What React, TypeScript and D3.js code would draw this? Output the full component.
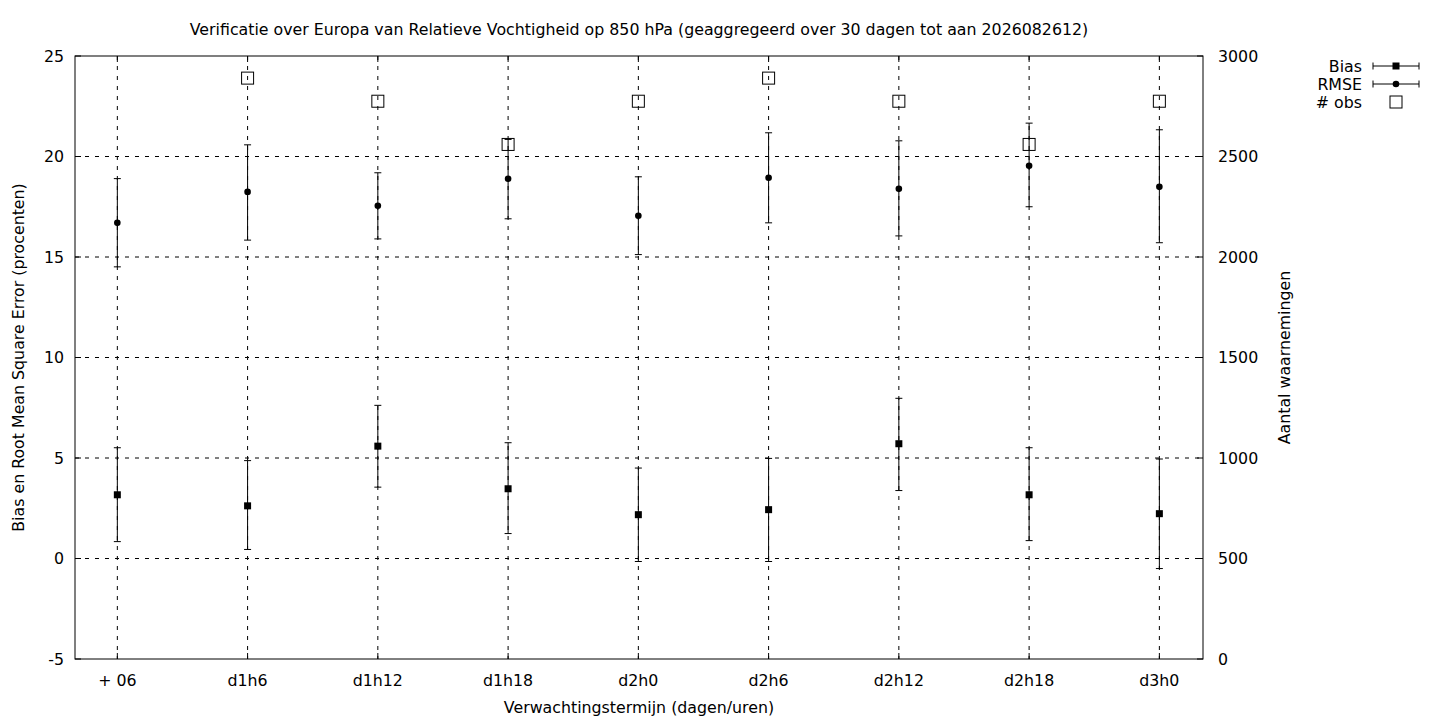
import React, { useEffect, useRef } from 'react';
import * as d3 from 'd3';

const leadTimes = ['+ 06', 'd1h6', 'd1h12', 'd1h18', 'd2h0', 'd2h6', 'd2h12', 'd2h18', 'd3h0'];

const biasValue = [3.17, 2.62, 5.59, 3.47, 2.18, 2.43, 5.71, 3.17, 2.23];
const biasLow = [0.84, 0.45, 3.55, 1.24, -0.15, -0.15, 3.38, 0.89, -0.5];
const biasHigh = [5.51, 4.87, 7.62, 5.76, 4.5, 4.98, 7.97, 5.51, 4.95];

const rmseValue = [16.7, 18.24, 17.55, 18.89, 17.05, 18.94, 18.39, 19.54, 18.49];
const rmseLow = [14.51, 15.84, 15.9, 16.9, 15.12, 16.7, 16.05, 17.5, 15.71];
const rmseHigh = [18.9, 20.58, 19.19, 20.85, 18.99, 21.18, 20.78, 21.66, 21.33];

const obsCount: (number | null)[] = [null, 2890, 2775, 2560, 2775, 2890, 2775, 2560, 2775];

const leftTicks = [-5, 0, 5, 10, 15, 20, 25];
const rightTicks = [0, 500, 1000, 1500, 2000, 2500, 3000];

const FONT = '"DejaVu Sans", sans-serif';

const Chart: React.FC = () => {
  const svgRef = useRef<SVGSVGElement>(null);

  useEffect(() => {
    if (!svgRef.current) return;
    const svg = d3.select(svgRef.current);
    svg.selectAll('*').remove();

    const left = 75;
    const right = 1203;
    const top = 56;
    const bottom = 659;

    const x = d3.scaleLinear().domain([-0.325, 8.335]).range([left, right]);
    const y = d3.scaleLinear().domain([-5, 25]).range([bottom, top]);
    const y2 = d3.scaleLinear().domain([0, 3000]).range([bottom, top]);

    const g = svg.append('g').style('font-family', FONT).style('font-size', '15.8px');

    // grid
    g.selectAll('line.hgrid')
      .data(leftTicks.slice(1, -1))
      .join('line')
      .attr('x1', left).attr('x2', right)
      .attr('y1', d => y(d)).attr('y2', d => y(d))
      .attr('stroke', '#000').attr('stroke-width', 1)
      .attr('stroke-dasharray', '4,6');

    g.selectAll('line.vgrid')
      .data(leadTimes)
      .join('line')
      .attr('x1', (_, i) => x(i)).attr('x2', (_, i) => x(i))
      .attr('y1', top).attr('y2', bottom)
      .attr('stroke', '#000').attr('stroke-width', 1)
      .attr('stroke-dasharray', '4,6');

    // tick marks inward
    const tl = 6;
    leftTicks.forEach(t => {
      g.append('line').attr('x1', left).attr('x2', left + tl)
        .attr('y1', y(t)).attr('y2', y(t)).attr('stroke', '#000');
    });
    rightTicks.forEach(t => {
      g.append('line').attr('x1', right - tl).attr('x2', right)
        .attr('y1', y2(t)).attr('y2', y2(t)).attr('stroke', '#000');
    });
    leadTimes.forEach((_, i) => {
      g.append('line').attr('x1', x(i)).attr('x2', x(i))
        .attr('y1', bottom).attr('y2', bottom - tl).attr('stroke', '#000');
      g.append('line').attr('x1', x(i)).attr('x2', x(i))
        .attr('y1', top).attr('y2', top + tl).attr('stroke', '#000');
    });

    // border
    g.append('rect')
      .attr('x', left).attr('y', top)
      .attr('width', right - left).attr('height', bottom - top)
      .attr('fill', 'none').attr('stroke', '#000').attr('stroke-width', 1);

    // tick labels
    g.selectAll('text.yl')
      .data(leftTicks)
      .join('text')
      .attr('x', 64).attr('y', d => y(d))
      .attr('dy', '0.35em').attr('text-anchor', 'end')
      .text(d => d);

    g.selectAll('text.yr')
      .data(rightTicks)
      .join('text')
      .attr('x', 1218).attr('y', d => y2(d))
      .attr('dy', '0.35em').attr('text-anchor', 'start')
      .text(d => d);

    g.selectAll('text.xl')
      .data(leadTimes)
      .join('text')
      .attr('x', (_, i) => x(i)).attr('y', 680)
      .attr('dy', '0.35em').attr('text-anchor', 'middle')
      .text(d => d);

    // error bars
    const cap = 3.5;
    const drawBars = (vals: number[], lo: number[], hi: number[]) => {
      vals.forEach((_, i) => {
        const cx = x(i);
        g.append('line').attr('x1', cx).attr('x2', cx)
          .attr('y1', y(lo[i])).attr('y2', y(hi[i])).attr('stroke', '#000');
        [lo[i], hi[i]].forEach(v => {
          g.append('line').attr('x1', cx - cap).attr('x2', cx + cap)
            .attr('y1', y(v)).attr('y2', y(v)).attr('stroke', '#000');
        });
      });
    };
    drawBars(biasValue, biasLow, biasHigh);
    drawBars(rmseValue, rmseLow, rmseHigh);

    const sq = 7;
    biasValue.forEach((v, i) => {
      g.append('rect')
        .attr('x', x(i) - sq / 2).attr('y', y(v) - sq / 2)
        .attr('width', sq).attr('height', sq).attr('fill', '#000');
    });
    rmseValue.forEach((v, i) => {
      g.append('circle')
        .attr('cx', x(i)).attr('cy', y(v)).attr('r', 3.3).attr('fill', '#000');
    });

    const os = 12;
    obsCount.forEach((v, i) => {
      if (v == null) return;
      g.append('rect')
        .attr('x', x(i) - os / 2).attr('y', y2(v) - os / 2)
        .attr('width', os).attr('height', os)
        .attr('fill', 'none').attr('stroke', '#000').attr('stroke-width', 1);
    });

    // titles
    g.append('text')
      .attr('x', (left + right) / 2).attr('y', 29)
      .attr('dy', '0.35em').attr('text-anchor', 'middle')
      .text('Verificatie over Europa van Relatieve Vochtigheid op 850 hPa (geaggregeerd over 30 dagen tot aan 2026082612)');

    g.append('text')
      .attr('x', (left + right) / 2).attr('y', 707)
      .attr('dy', '0.35em').attr('text-anchor', 'middle')
      .text('Verwachtingstermijn (dagen/uren)');

    g.append('text')
      .attr('transform', `translate(18,${(top + bottom) / 2}) rotate(-90)`)
      .attr('dy', '0.35em').attr('text-anchor', 'middle')
      .text('Bias en Root Mean Square Error (procenten)');

    g.append('text')
      .attr('transform', `translate(1284,${(top + bottom) / 2}) rotate(-90)`)
      .attr('dy', '0.35em').attr('text-anchor', 'middle')
      .text('Aantal waarnemingen');

    // legend
    const legend = [
      { label: 'Bias', kind: 'square' },
      { label: 'RMSE', kind: 'circle' },
      { label: '# obs', kind: 'open' },
    ];
    legend.forEach((item, i) => {
      const ly = 66 + i * 18;
      g.append('text').attr('x', 1362).attr('y', ly)
        .attr('dy', '0.35em').attr('text-anchor', 'end').text(item.label);
      const mx = 1396;
      if (item.kind !== 'open') {
        g.append('line').attr('x1', 1373).attr('x2', 1419)
          .attr('y1', ly).attr('y2', ly).attr('stroke', '#000');
        [1373, 1419].forEach(cx => {
          g.append('line').attr('x1', cx).attr('x2', cx)
            .attr('y1', ly - cap).attr('y2', ly + cap).attr('stroke', '#000');
        });
      }
      if (item.kind === 'square') {
        g.append('rect').attr('x', mx - sq / 2).attr('y', ly - sq / 2)
          .attr('width', sq).attr('height', sq).attr('fill', '#000');
      } else if (item.kind === 'circle') {
        g.append('circle').attr('cx', mx).attr('cy', ly).attr('r', 3.3).attr('fill', '#000');
      } else {
        g.append('rect').attr('x', mx - os / 2).attr('y', ly - os / 2)
          .attr('width', os).attr('height', os)
          .attr('fill', 'none').attr('stroke', '#000');
      }
    });
  }, []);

  return (
    <svg
      ref={svgRef}
      width={1440}
      height={720}
      style={{ position: 'absolute', left: 0, top: 0, background: '#fff' }}
    />
  );
};

export default function App() {
  return <Chart />;
}
